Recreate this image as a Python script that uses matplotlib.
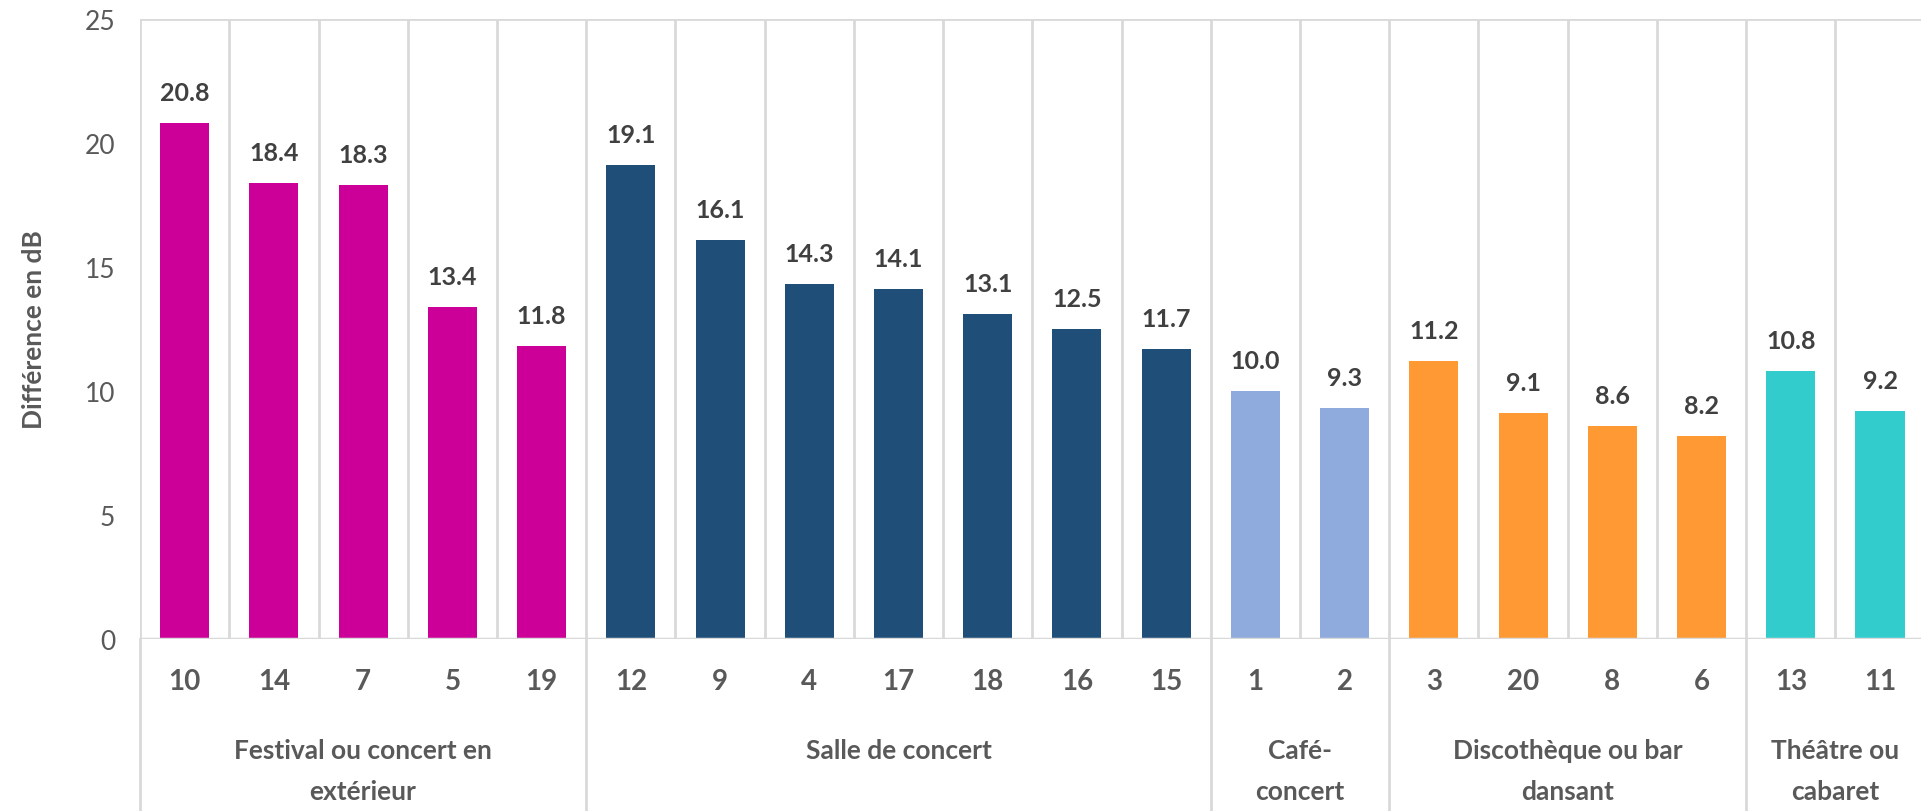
import matplotlib.pyplot as plt
import matplotlib.transforms as mtransforms
import numpy as np

plt.rcParams['font.family'] = ['Lato', 'DejaVu Sans']

# data
ids = ['10', '14', '7', '5', '19',
       '12', '9', '4', '17', '18', '16', '15',
       '1', '2',
       '3', '20', '8', '6',
       '13', '11']
values = [20.8, 18.4, 18.3, 13.4, 11.8,
          19.1, 16.1, 14.3, 14.1, 13.1, 12.5, 11.7,
          10.0, 9.3,
          11.2, 9.1, 8.6, 8.2,
          10.8, 9.2]
groups = ['Festival ou concert en\nextérieur', 'Salle de concert', 'Café-\nconcert',
          'Discothèque ou bar\ndansant', 'Théâtre ou\ncabaret']
group_sizes = [5, 7, 2, 4, 2]
group_colors = ['#CC0099', '#1F4E79', '#8FAADC', '#FF9933', '#33CCCC']

grid_col = '#D9D9D9'
text_col = '#595959'

fig = plt.figure(figsize=(19.21, 8.12), dpi=100)
ax = fig.add_axes([0.0729, 0.2118, 0.929, 0.7635])

x = np.arange(len(values))
colors = []
for c, n in zip(group_colors, group_sizes):
    colors += [c] * n

ax.bar(x, values, width=0.55, color=colors, zorder=3)

for xi, v in zip(x, values):
    ax.annotate(f'{v:.1f}', (xi, v), xytext=(0, 22), textcoords='offset points',
                ha='center', va='center', fontsize=18, fontweight='bold', color='#404040')

ax.set_xlim(-0.5, len(values) - 0.5)
ax.set_ylim(0, 25)
ax.set_yticks([0, 5, 10, 15, 20, 25])
ax.tick_params(axis='y', length=0, pad=18, labelsize=19, labelcolor=text_col)
ax.set_xticks([])

# vertical gridlines at every category boundary
for b in np.arange(-0.5, len(values), 1.0):
    ax.axvline(b, color=grid_col, lw=2, zorder=1)

for s in ['top', 'bottom', 'left', 'right']:
    ax.spines[s].set_visible(False)
ax.axhline(25, color=grid_col, lw=2, zorder=1)
ax.axhline(0, color=grid_col, lw=2.5, zorder=4)

trans = mtransforms.blended_transform_factory(ax.transData, ax.transAxes)

# category labels
for xi, lab in zip(x, ids):
    ax.text(xi, -0.067, lab, transform=trans, ha='center', va='center',
            fontsize=20, fontweight='bold', color=text_col)

# group labels and separators
start = 0
bounds = [-0.5]
for g, n in zip(groups, group_sizes):
    center = start + (n - 1) / 2
    ax.text(center, -0.16, g, transform=trans, ha='center', va='top',
            fontsize=19, fontweight='bold', color=text_col, linespacing=1.85)
    start += n
    bounds.append(start - 0.5)
for b in bounds:
    ax.plot([b, b], [0, -0.3], transform=trans, color=grid_col, lw=2, clip_on=False)

fig.text(0.0177, 0.594, 'Différence en dB', rotation=90, ha='center', va='center',
         fontsize=19, fontweight='bold', color=text_col)

fig.savefig('out.png', dpi=100)
